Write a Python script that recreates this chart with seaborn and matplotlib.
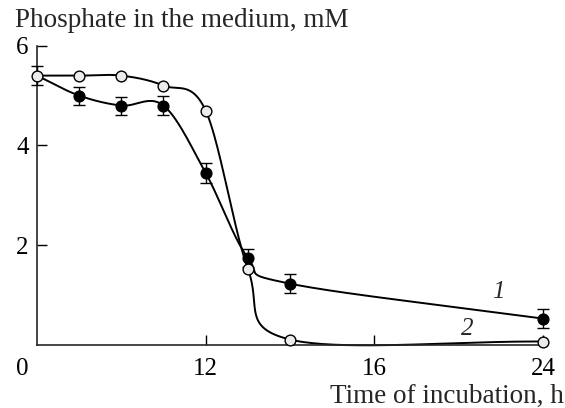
import numpy as np
import pandas as pd
import matplotlib
matplotlib.use('Agg')
import matplotlib.pyplot as plt
import matplotlib.transforms as mtransforms
import seaborn as sns

# data
time_h = [0, 3, 6, 9, 12, 13, 14, 24]
curve1 = [5.4, 5.0, 4.8, 4.8, 3.45, 1.75, 1.23, 0.53]   # filled circles
curve1_err = [0.19, 0.18, 0.18, 0.19, 0.2, 0.18, 0.19, 0.19]
curve2 = [5.4, 5.4, 5.4, 5.2, 4.7, 1.53, 0.11, 0.07]    # open circles
xticks = [0, 12, 16, 24]
yticks = [2, 4, 6]

# the time axis is stretched piecewise (0-12, 12-16, 16-24 take equal space)
brk_t = [0, 12, 16, 24]
brk_u = [0, 4, 8, 12]
def fwd(t):
    return np.interp(t, brk_t, brk_u)
def inv(u):
    return np.interp(u, brk_u, brk_t)

def smooth(x, y, n=40):
    # Catmull-Rom through the points, in the stretched coordinates
    u = fwd(np.asarray(x, float))
    y = np.asarray(y, float)
    P = np.column_stack([u, y])
    P = np.vstack([2*P[0]-P[1], P, 2*P[-1]-P[-2]])
    out = []
    for i in range(1, len(P)-2):
        p0, p1, p2, p3 = P[i-1], P[i], P[i+1], P[i+2]
        s = np.linspace(0, 1, n)[:, None]
        seg = 0.5*((2*p1) + (-p0+p2)*s + (2*p0-5*p1+4*p2-p3)*s**2 + (-p0+3*p1-3*p2+p3)*s**3)
        out.append(seg)
    out = np.vstack(out)
    return inv(out[:, 0]), out[:, 1]

sns.set_style('ticks')
plt.rcParams['font.family'] = ['Liberation Serif', 'DejaVu Serif']

fs = 18      # tick labels and curve numbers
fs_lab = 19.5  # axis titles
fig = plt.figure(figsize=(5.65, 4.08), dpi=100)
ax = fig.add_axes([0.0655, 0.1544, 0.961-0.0655, 0.888-0.1544])
ax.set_xscale('function', functions=(fwd, inv))

df = pd.DataFrame({'t': time_h, 'c1': curve1, 'c2': curve2})

xs, ys = smooth(time_h, curve1)
ax.plot(xs, ys, color='k', lw=1.4, clip_on=False, zorder=2)
xs, ys = smooth(time_h, curve2)
ax.plot(xs, ys, color='k', lw=1.4, clip_on=False, zorder=2)

ax.errorbar(time_h, curve1, yerr=curve1_err, fmt='none', ecolor='k',
            elinewidth=1.0, capsize=4, capthick=1.0, clip_on=False, zorder=3)
sns.scatterplot(data=df, x='t', y='c2', ax=ax, s=60, color='#ececec',
                edgecolor='k', linewidth=1.0, clip_on=False, zorder=5)
sns.scatterplot(data=df.iloc[1:], x='t', y='c1', ax=ax, s=60, color='k',
                edgecolor='k', linewidth=1.0, clip_on=False, zorder=4)

ax.set_xlim(0, 24)
ax.set_ylim(0, 6)
ax.set_xticks(xticks)
ax.set_xticklabels([str(v) for v in xticks])
ax.set_yticks(yticks)
ax.tick_params(direction='in', length=7, width=1.0, labelsize=fs, colors='k')
ax.tick_params(axis='x', pad=9)
ax.tick_params(axis='y', pad=6)
ax.xaxis.get_major_ticks()[0].tick1line.set_visible(False)
lab0 = ax.get_xticklabels()[0]
lab0.set_transform(lab0.get_transform() + mtransforms.ScaledTranslation(-15/100, 0, fig.dpi_scale_trans))
sns.despine(ax=ax)
for sp in ['left', 'bottom']:
    ax.spines[sp].set_linewidth(1.2)
ax.set_xlabel('')
ax.set_ylabel('')

fig.text(15/565, 1-27/408, 'Phosphate in the medium, mM', fontsize=fs_lab, ha='left', va='baseline')
fig.text(564/565, 1-403/408, 'Time of incubation, h', fontsize=fs_lab, ha='right', va='baseline')
ax.text(21.9, 1.06, '1', fontsize=fs, style='italic', ha='center', va='center')
ax.text(20.4, 0.32, '2', fontsize=fs, style='italic', ha='center', va='center')

fig.savefig('out.png', dpi=100)
